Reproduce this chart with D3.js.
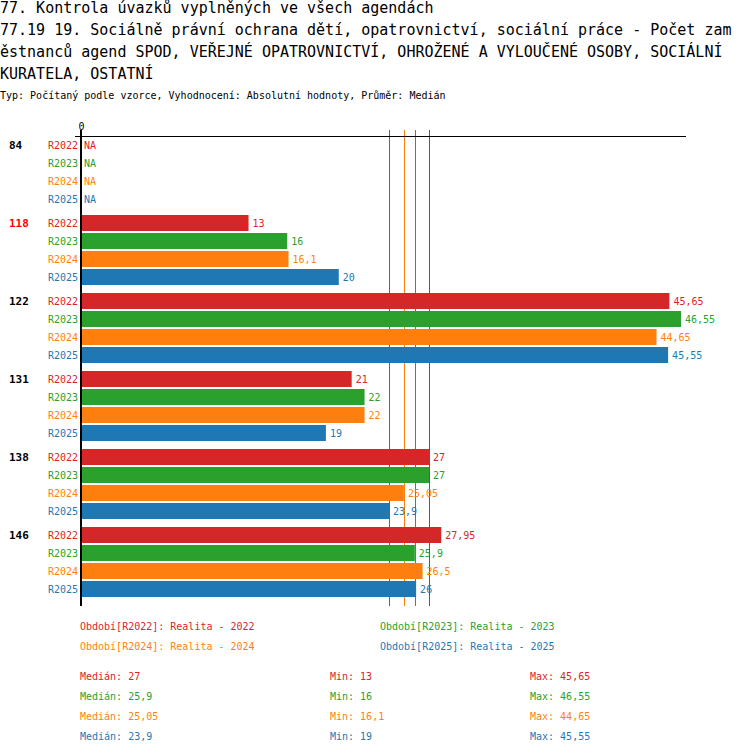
<!DOCTYPE html>
<html>
<head>
<meta charset="utf-8">
<script src="https://cdn.jsdelivr.net/npm/d3@7"></script>
<style>
  body { margin: 0; background: #fff; }
  text { font-family: "DejaVu Sans Mono", monospace; }
</style>
</head>
<body>
<div id="chart-area"></div>
<script>
const titleLines = [
  "77. Kontrola úvazků vyplněných ve všech agendách",
  "77.19 19. Sociálně právní ochrana dětí, opatrovnictví, sociální práce - Počet zam",
  "ěstnanců agend SPOD, VEŘEJNÉ OPATROVNICTVÍ, OHROŽENÉ A VYLOUČENÉ OSOBY, SOCIÁLNÍ",
  "KURATELA, OSTATNÍ"
];
const subtitle = "Typ: Počítaný podle vzorce, Vyhodnocení: Absolutní hodnoty, Průměr: Medián";

const groups = ["84", "118", "122", "131", "138", "146"];
const highlighted = ["118"];
const series = ["R2022", "R2023", "R2024", "R2025"];
const seriesNames = ["Realita - 2022", "Realita - 2023", "Realita - 2024", "Realita - 2025"];
const colors = ["#d62728", "#2ca02c", "#ff7f0e", "#1f77b4"];

// values per series, in group order (null = NA)
const r2022 = [null, 13, 45.65, 21, 27, 27.95];
const r2023 = [null, 16, 46.55, 22, 27, 25.9];
const r2024 = [null, 16.1, 44.65, 22, 25.05, 26.5];
const r2025 = [null, 20, 45.55, 19, 23.9, 26];
const values = [r2022, r2023, r2024, r2025];

const fmt = v => String(v).replace(".", ",");

const W = 750, H = 754;
const x0 = 81;

const svg = d3.select("#chart-area")
  .append("svg")
  .attr("width", W)
  .attr("height", H);

// titles
titleLines.forEach((t, i) => {
  svg.append("text")
    .attr("x", 0)
    .attr("y", 13 + i * 22)
    .attr("font-size", "15px")
    .attr("fill", "#000")
    .text(t);
});
svg.append("text")
  .attr("x", 0)
  .attr("y", 99)
  .attr("font-size", "10px")
  .text(subtitle);

const x = d3.scaleLinear()
  .domain([0, d3.max(values.flat())])
  .range([x0, 681]);

const y = d3.scaleBand()
  .domain(groups)
  .range([137, 137 + 78 * groups.length]);

const ySub = d3.scaleBand()
  .domain(series)
  .range([0, 72]);

const chartBottom = 606;

// median lines
const medians = values.map(v => d3.median(v.filter(d => d != null)));
svg.selectAll(".median")
  .data(medians)
  .enter()
  .append("line")
  .attr("x1", d => Math.round(x(d)) + 0.5)
  .attr("x2", d => Math.round(x(d)) + 0.5)
  .attr("y1", 130)
  .attr("y2", chartBottom)
  .attr("stroke", (d, i) => colors[i])
  .attr("stroke-width", 1);

// top axis
const xAxis = d3.axisTop(x).tickValues([0]).tickSize(0).tickPadding(6);
const ax = svg.append("g")
  .attr("transform", `translate(0, 136)`)
  .call(xAxis);
ax.select(".domain").remove();
ax.selectAll("text")
  .attr("font-family", "DejaVu Sans Mono, monospace")
  .attr("font-size", "10px");
svg.append("line")
  .attr("x1", 75).attr("x2", 686)
  .attr("y1", 136.5).attr("y2", 136.5)
  .attr("stroke", "#000");

// groups
const g = svg.selectAll(".grp")
  .data(groups)
  .enter()
  .append("g")
  .attr("transform", d => `translate(0, ${y(d)})`);

g.append("text")
  .attr("x", 9)
  .attr("y", ySub(series[0]) + 8)
  .attr("dy", "0.35em")
  .attr("font-size", "11px")
  .attr("font-weight", "bold")
  .attr("fill", d => highlighted.includes(d) ? "#ff0000" : "#000")
  .text(d => d);

series.forEach((s, si) => {
  const rows = g.append("g")
    .attr("transform", `translate(0, ${ySub(s)})`);

  rows.append("text")
    .attr("x", 78)
    .attr("y", 8)
    .attr("dy", "0.35em")
    .attr("text-anchor", "end")
    .attr("font-size", "10px")
    .attr("fill", colors[si])
    .text(s);

  rows.filter((d, gi) => values[si][gi] != null)
    .append("rect")
    .attr("x", x0)
    .attr("y", 0)
    .attr("width", (d, gi) => x(values[si][groups.indexOf(d)]) - x0)
    .attr("height", 16)
    .attr("fill", colors[si]);

  rows.append("text")
    .attr("x", d => {
      const v = values[si][groups.indexOf(d)];
      return v == null ? x0 + 3 : x(v) + 4;
    })
    .attr("y", 8)
    .attr("dy", "0.35em")
    .attr("font-size", "10px")
    .attr("fill", colors[si])
    .text(d => {
      const v = values[si][groups.indexOf(d)];
      return v == null ? "NA" : fmt(v);
    });
});

// vertical axis line
svg.append("line")
  .attr("x1", x0).attr("x2", x0)
  .attr("y1", 130).attr("y2", chartBottom)
  .attr("stroke", "#000")
  .attr("stroke-width", 2);

// legend
series.forEach((s, i) => {
  svg.append("text")
    .attr("x", i % 2 === 0 ? 80 : 380)
    .attr("y", 626 + Math.floor(i / 2) * 20)
    .attr("dy", "0.35em")
    .attr("font-size", "10px")
    .attr("fill", colors[i])
    .text(`Období[${s}]: ${seriesNames[i]}`);
});

// stats
series.forEach((s, i) => {
  const v = values[i].filter(d => d != null);
  const yy = 676 + i * 20;
  [["Medián: ", d3.median(v), 80], ["Min: ", d3.min(v), 330], ["Max: ", d3.max(v), 530]]
    .forEach(([lab, val, xx]) => {
      svg.append("text")
        .attr("x", xx)
        .attr("y", yy)
        .attr("dy", "0.35em")
        .attr("font-size", "10px")
        .attr("fill", colors[i])
        .text(lab + fmt(val));
    });
});
</script>
</body>
</html>
